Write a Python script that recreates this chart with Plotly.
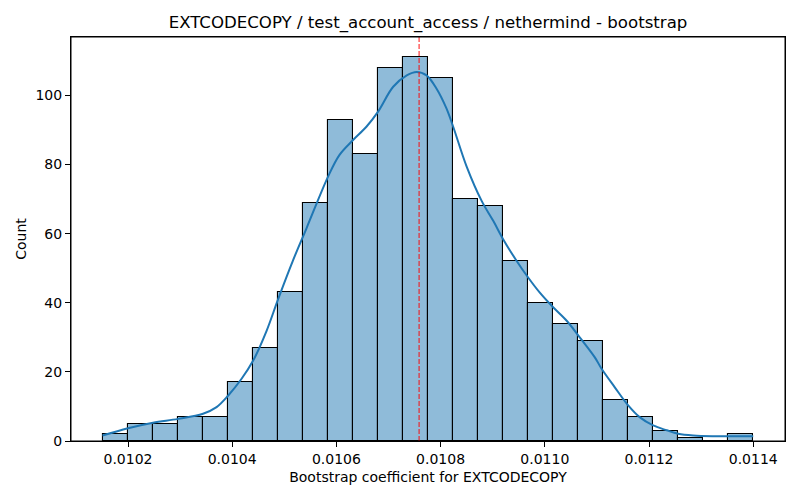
import numpy as np
import plotly.graph_objects as go

# гистограмма бутстрэп-коэффициентов
bin_start = 0.010152
bin_width = 0.000048
counts = [2, 5, 5, 7, 7, 17, 27, 43, 69, 93, 83, 108, 111,
          105, 70, 68, 52, 40, 34, 29, 12, 7, 3, 1, 0, 2]

# кривая KDE
kde_x = [0.010151, 0.010200, 0.010248, 0.010296, 0.010344, 0.010370, 0.010392,
         0.010418, 0.010440, 0.010466, 0.010488, 0.010516, 0.010543, 0.010584,
         0.010606, 0.010632, 0.010658, 0.010680, 0.010709, 0.010735, 0.010754,
         0.010773, 0.010792, 0.010811, 0.010824, 0.010850, 0.010879, 0.010901,
         0.010920, 0.010946, 0.010968, 0.010990, 0.011016, 0.011042, 0.011067,
         0.011096, 0.011109, 0.011134, 0.011160, 0.011182, 0.011208, 0.011234,
         0.011256, 0.011285, 0.011323, 0.011362, 0.011400]
kde_y = [1.6, 3.7, 5.3, 6.4, 7.9, 9.8, 13.1,
         18.0, 23.2, 31.9, 41.0, 52.0, 61.7, 76.5,
         82.8, 87.1, 91.0, 95.3, 102.5, 105.8, 106.8,
         105.8, 102.0, 96.3, 91.0, 79.4, 69.4, 63.7,
         58.4, 52.1, 47.3, 43.0, 38.7, 34.8, 30.0,
         24.2, 20.9, 15.6, 10.3, 6.9, 4.5, 3.1,
         2.1, 1.6, 1.4, 1.4, 1.4]

mean_value = 0.0107587
x_ticks = [0.0102, 0.0104, 0.0106, 0.0108, 0.0110, 0.0112, 0.0114]
y_ticks = [0, 20, 40, 60, 80, 100]

left_edges = bin_start + bin_width * np.arange(len(counts))

fig = go.Figure()
fig.add_trace(go.Bar(x=left_edges, y=counts, width=bin_width, offset=0,
                     marker=dict(color='rgba(31,119,180,0.5)',
                                 line=dict(color='black', width=1.1))))
fig.add_trace(go.Scatter(x=kde_x, y=kde_y, mode='lines',
                         line=dict(color='#1f77b4', width=2, shape='spline')))
fig.add_vline(x=mean_value, line=dict(color='rgba(255,0,0,0.85)', width=1.1,
                                      dash='5px,2px'))
# рамка вокруг области графика
fig.add_shape(type='rect', xref='paper', yref='paper', x0=0, y0=0, x1=1, y1=1,
              line=dict(color='black', width=1), layer='above')

axis_style = dict(showline=True, linecolor='black', linewidth=1, mirror=True,
                  ticks='outside', ticklen=5, tickcolor='black', showgrid=False,
                  zeroline=False, automargin=False,
                  tickfont=dict(size=14, color='black'))

fig.update_layout(
    width=800, height=500,
    margin=dict(l=71, r=15, t=37, b=59, autoexpand=False),
    plot_bgcolor='white', paper_bgcolor='white',
    font=dict(family='DejaVu Sans', color='black'),
    showlegend=False, bargap=0,
    title=dict(text='EXTCODECOPY / test_account_access / nethermind - bootstrap',
               xref='paper', x=0.5, xanchor='center', y=0.955, yanchor='middle',
               font=dict(size=16.6)),
    xaxis=dict(range=[0.0100906, 0.011461], tickvals=x_ticks, tickformat='.4f',
               title=dict(text='Bootstrap coefficient for EXTCODECOPY',
                          font=dict(size=14), standoff=6), **axis_style),
    yaxis=dict(range=[0, 116.9], tickvals=y_ticks,
               title=dict(text='Count', font=dict(size=14), standoff=5),
               **axis_style),
)

fig.write_html("out.html", config={'displayModeBar': False},
               post_script="document.body.style.margin='0';")
